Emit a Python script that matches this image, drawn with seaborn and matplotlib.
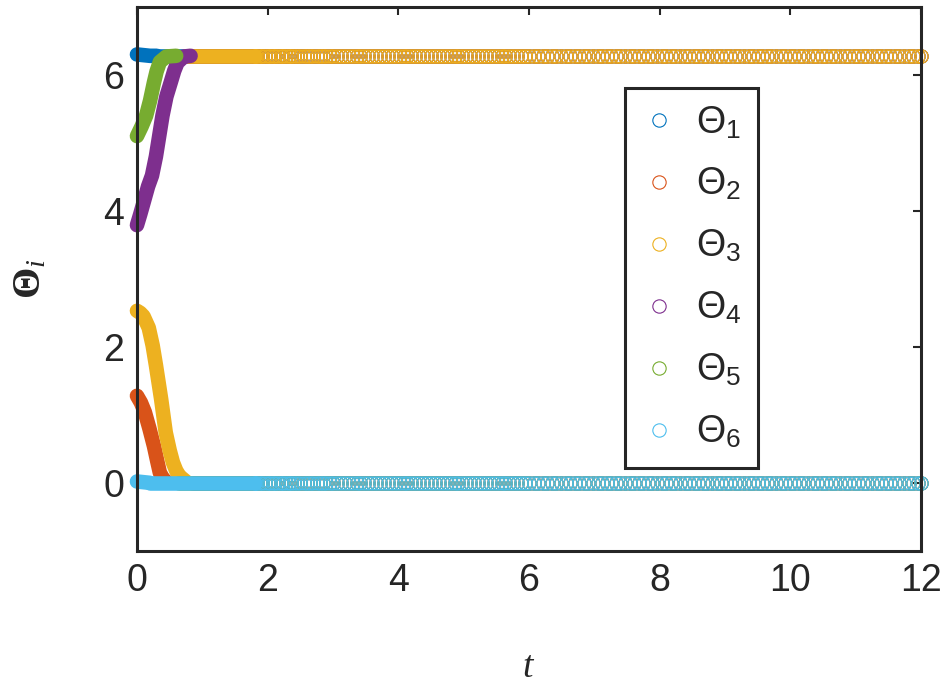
import matplotlib
matplotlib.use('Agg')
import matplotlib.pyplot as plt
from matplotlib.lines import Line2D
import seaborn as sns

# transient part of each phase (t, Theta)
t_1 = [0.0, 0.1, 0.2, 0.3]
theta_1 = [6.30, 6.29, 6.28, 6.28]
t_2 = [0.0, 0.06, 0.12, 0.19, 0.26, 0.31, 0.35, 0.40, 0.45]
theta_2 = [1.28, 1.18, 1.04, 0.80, 0.54, 0.32, 0.15, 0.06, 0.02]
t_3 = [0.0, 0.05, 0.1, 0.18, 0.24, 0.29, 0.33, 0.37, 0.44, 0.50, 0.55, 0.60, 0.65, 0.75]
theta_3 = [2.53, 2.50, 2.45, 2.28, 2.02, 1.73, 1.48, 1.23, 0.74, 0.48, 0.30, 0.18, 0.10, 0.02]
t_4 = [0.0, 0.05, 0.1, 0.17, 0.23, 0.29, 0.34, 0.39, 0.45, 0.52, 0.57, 0.62, 0.72, 0.82]
theta_4 = [3.79, 3.95, 4.12, 4.36, 4.52, 4.80, 5.10, 5.40, 5.68, 5.90, 6.06, 6.18, 6.27, 6.28]
t_5 = [0.0, 0.07, 0.14, 0.20, 0.26, 0.30, 0.35, 0.45, 0.60]
theta_5 = [5.10, 5.24, 5.40, 5.62, 5.89, 6.05, 6.19, 6.27, 6.28]
t_6 = [0.0, 0.1, 0.2]
theta_6 = [0.02, 0.01, 0.0]

# value after the phases lock (mod 2*pi), and when that starts
settle_t = [0.3, 0.8, 0.75, 0.85, 0.65, 0.2]
settle_val = [6.28, 6.28, 6.28, 0.0, 0.0, 0.0]

# solver output times where single circles are visible
t_tail = [1.80, 1.84, 1.88, 1.92, 1.96, 2.00, 2.04, 2.08, 2.12, 2.16,
          2.20, 2.24, 2.28, 2.32, 2.36, 2.40, 2.45, 2.50, 2.55, 2.60,
          2.65, 2.70, 2.75, 2.80, 2.85, 2.90, 2.95, 3.00, 3.06, 3.12,
          3.18, 3.24, 3.30, 3.36, 3.42, 3.48, 3.54, 3.60, 3.66, 3.72,
          3.78, 3.84, 3.90, 3.96, 4.02, 4.08, 4.14, 4.20, 4.26, 4.32,
          4.38, 4.44, 4.50, 4.56, 4.62, 4.68, 4.74, 4.80, 4.86, 4.92,
          4.98, 5.04, 5.10, 5.16, 5.22, 5.28, 5.34, 5.40, 5.46, 5.52,
          5.58, 5.64, 5.70, 5.76, 5.82, 5.88, 5.94, 6.00, 6.07, 6.14,
          6.21, 6.28, 6.35, 6.42, 6.49, 6.56, 6.63, 6.70, 6.77, 6.84,
          6.91, 6.98, 7.05, 7.12, 7.19, 7.26, 7.33, 7.40, 7.47, 7.54,
          7.61, 7.68, 7.75, 7.82, 7.89, 7.96, 8.03, 8.10, 8.17, 8.24,
          8.31, 8.38, 8.45, 8.52, 8.59, 8.66, 8.73, 8.80, 8.87, 8.94,
          9.01, 9.08, 9.15, 9.22, 9.29, 9.36, 9.43, 9.50, 9.57, 9.64,
          9.71, 9.78, 9.85, 9.92, 9.99, 10.06, 10.13, 10.20, 10.27, 10.34,
          10.41, 10.48, 10.55, 10.62, 10.69, 10.76, 10.83, 10.90, 10.97, 11.04,
          11.11, 11.18, 11.25, 11.32, 11.39, 11.46, 11.53, 11.60, 11.67, 11.74,
          11.81, 11.88, 11.95, 12.00]

labels = [r'$\Theta_1$', r'$\Theta_2$', r'$\Theta_3$', r'$\Theta_4$', r'$\Theta_5$', r'$\Theta_6$']
colors = ['#0072BD', '#D95319', '#EDB120', '#7E2F8E', '#77AC30', '#4DBEEE']

sns.set_theme(style='white')
plt.rcParams['font.family'] = ['Liberation Sans', 'DejaVu Sans']
plt.rcParams['mathtext.fontset'] = 'custom'
plt.rcParams['mathtext.rm'] = 'Liberation Sans'
plt.rcParams['mathtext.bf'] = 'Liberation Serif:bold'
plt.rcParams['mathtext.it'] = 'Liberation Serif:italic'

fig, ax = plt.subplots(figsize=(9.46, 6.86), dpi=100)
fig.subplots_adjust(left=0.1448, right=0.9736, bottom=0.197, top=0.99)

ts = [t_1, t_2, t_3, t_4, t_5, t_6]
ths = [theta_1, theta_2, theta_3, theta_4, theta_5, theta_6]
band = 10.5  # width of the packed-marker band, pt

for i in range(6):
    z = 2 + i
    c = colors[i]
    sns.lineplot(x=ts[i], y=ths[i], color=c, linewidth=band, sort=False,
                 solid_capstyle='round', solid_joinstyle='round', ax=ax, zorder=z, clip_on=False)
    sns.lineplot(x=[settle_t[i], t_tail[0]], y=[settle_val[i], settle_val[i]], color=c,
                 linewidth=band, solid_capstyle='round', ax=ax, zorder=z, clip_on=False)
    sns.lineplot(x=t_tail, y=[settle_val[i]] * len(t_tail), marker='o', linestyle='none',
                 markersize=9.6, markerfacecolor='none', markeredgecolor=c,
                 markeredgewidth=0.8, ax=ax, zorder=z, clip_on=False)

ax.set_xlim(0, 12)
ax.set_ylim(-1, 7)
ax.set_xticks([0, 2, 4, 6, 8, 10, 12])
ax.set_yticks([0, 2, 4, 6])
ax.tick_params(direction='in', top=True, right=True, length=6, width=1.5,
               labelsize=27, pad=9, color='#262626', labelcolor='#262626')
for s in ax.spines.values():
    s.set_linewidth(2.2)
    s.set_color('#262626')
    s.set_zorder(15)

ax.set_xlabel(r'$\mathit{t}$', fontsize=27)
ax.xaxis.set_label_coords(0.5, -0.18)
ax.set_ylabel(r'$\mathbf{\Theta}_{\mathit{i}}$', fontsize=29)
ax.yaxis.set_label_coords(-0.113, 0.5)

handles = [Line2D([], [], marker='o', linestyle='none', markersize=9.6, markerfacecolor='none',
                  markeredgecolor=c, markeredgewidth=0.8) for c in colors]
leg = ax.legend(handles, labels, loc='upper left', bbox_to_anchor=(0.622, 0.851),
                borderaxespad=0, fontsize=27, frameon=True, fancybox=False,
                edgecolor='#262626', framealpha=1, borderpad=0.45, labelspacing=0.68,
                handlelength=0.95, handletextpad=0.5)
leg.get_frame().set_linewidth(2.2)
leg.set_zorder(20)

plt.savefig('out.png', dpi=100)
